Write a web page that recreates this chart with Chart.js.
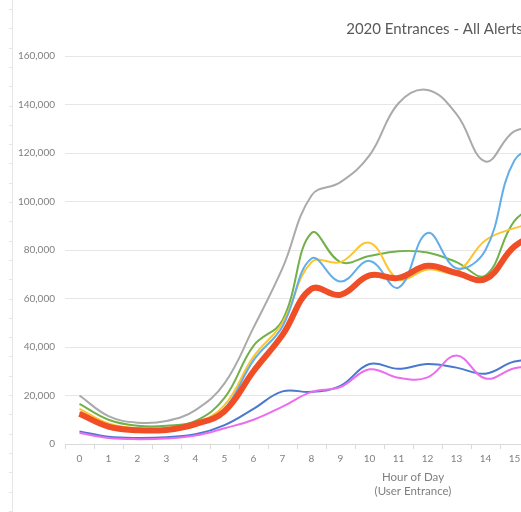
<!DOCTYPE html>
<html>
<head>
<meta charset="utf-8">
<script src="https://cdn.jsdelivr.net/npm/chart.js@4.4.1/dist/chart.umd.min.js"></script>
<style>
  html, body { margin: 0; padding: 0; background: #fff; overflow: hidden; }
  #wrap { position: relative; width: 521px; height: 512px; overflow: hidden; }
  #chart { position: absolute; left: 0; top: 0; }
</style>
</head>
<body>
<div id="wrap"><canvas id="chart"></canvas></div>
<script>
// Hour of day categories
const hours = ['0', '1', '2', '3', '4', '5', '6', '7', '8', '9', '10', '11',
  '12', '13', '14', '15', '16', '17', '18', '19', '20', '21', '22', '23'];

// Entrances per hour (only hours 0-16 are visible)
const allAlerts = [12500, 7200, 5700, 5800, 8200, 13500, 30000, 45000, 64000, 61500, 69500, 68500, 73500, 70500, 68000, 81500, 88000];
const graySeries = [20000, 11500, 8800, 9500, 14000, 25000, 48000, 72500, 102500, 108000, 119000, 140500, 146000, 136000, 116500, 129000, 130000];
const greenSeries = [16500, 10000, 7500, 7500, 9500, 19000, 40500, 51000, 87000, 75000, 77500, 79500, 79000, 75000, 69500, 92000, 100000];
const yellowSeries = [14500, 8500, 6500, 6500, 8500, 16000, 36000, 50000, 75000, 75000, 83000, 68000, 72000, 71000, 84000, 89000, 92000];
const lightBlueSeries = [13000, 7000, 5500, 5500, 8000, 14500, 34500, 48500, 76500, 67000, 75500, 64500, 87000, 72500, 80000, 117000, 123000];
const darkBlueSeries = [5200, 3000, 2500, 2800, 4000, 7800, 14500, 21700, 21500, 24000, 33000, 31000, 33000, 31500, 29000, 34000, 34500];
const pinkSeries = [4500, 2500, 2000, 2300, 3500, 6500, 10000, 15400, 21500, 23500, 30800, 27300, 27500, 36500, 27000, 31200, 32500];

const yTicks = [0, 20000, 40000, 60000, 80000, 100000, 120000, 140000, 160000];

const chartTitle = '2020 Entrances - All Alerts';
const xTitle = ['Hour of Day', '(User Entrance)'];

const FONT = 'Lato, "Open Sans", sans-serif';

// the chart is wider than the window, only its left part shows
const measure = document.createElement('canvas').getContext('2d');
measure.font = '15px ' + FONT;
const titleWidth = measure.measureText(chartTitle).width;
const W = Math.round(2 * 346 + titleWidth);
const H = 512;
const plotRight = 761;

const canvas = document.getElementById('chart');
canvas.width = W;
canvas.height = H;
canvas.style.width = W + 'px';
canvas.style.height = H + 'px';

// faint ruler line at the far left of the picture
const rulerPlugin = {
  id: 'ruler',
  beforeDraw(chart) {
    const ctx = chart.ctx;
    ctx.save();
    ctx.strokeStyle = '#e6e6e6';
    ctx.lineWidth = 1;
    ctx.beginPath();
    ctx.moveTo(12.5, 0);
    ctx.lineTo(12.5, H);
    for (let y = 9; y < H; y += 19.3) {
      ctx.moveTo(9, Math.round(y) + 0.5);
      ctx.lineTo(12.5, Math.round(y) + 0.5);
    }
    ctx.stroke();
    ctx.restore();
  }
};

function line(data, color, width) {
  return {
    data: data,
    borderColor: color,
    backgroundColor: color,
    borderWidth: width,
    pointRadius: 0,
    tension: 0.4,
    fill: false
  };
}

new Chart(canvas, {
  type: 'line',
  data: {
    labels: hours,
    datasets: [
      line(allAlerts, '#f04e26', 6),
      line(pinkSeries, '#ec6cf0', 2),
      line(darkBlueSeries, '#4a78cf', 2),
      line(lightBlueSeries, '#62aee8', 2),
      line(yellowSeries, '#fcc52e', 2),
      line(greenSeries, '#72b04a', 2),
      line(graySeries, '#aaaaaa', 2)
    ]
  },
  options: {
    responsive: false,
    animation: false,
    layout: { padding: 0 },
    plugins: {
      legend: { display: false },
      tooltip: { enabled: false },
      title: {
        display: true,
        text: chartTitle,
        color: '#595959',
        font: { family: FONT, size: 15, weight: 'normal' },
        padding: { top: 20, bottom: 18 }
      }
    },
    scales: {
      x: {
        offset: true,
        grid: { display: true, offset: true, drawOnChartArea: false, color: '#d9d9d9', tickLength: 5 },
        border: { display: true, color: '#d9d9d9' },
        ticks: { color: '#808080', font: { family: FONT, size: 10 }, padding: 4, maxRotation: 0, autoSkip: false },
        title: {
          display: true,
          text: xTitle,
          color: '#7f7f7f',
          font: { family: FONT, size: 11.5, lineHeight: 1.22 },
          padding: { top: 0, bottom: 14 }
        },
        afterFit(s) { s.height = 68; }
      },
      y: {
        min: 0,
        max: 160000,
        afterBuildTicks(s) { s.ticks = yTicks.map(v => ({ value: v })); },
        grid: { color: '#e6e6e6', drawTicks: false },
        border: { display: false },
        ticks: {
          color: '#808080',
          font: { family: FONT, size: 10 },
          padding: 10,
          callback: v => v.toLocaleString('en-US')
        },
        afterFit(s) { s.width = 65; }
      },
      // empty space right of the plot (off screen), keeps the title centred on the whole chart
      spacer: {
        type: 'linear',
        position: 'right',
        display: true,
        grid: { display: false },
        border: { display: false },
        ticks: { display: false },
        afterFit(s) { s.width = W - plotRight; }
      }
    }
  },
  plugins: [rulerPlugin]
});
</script>
</body>
</html>
